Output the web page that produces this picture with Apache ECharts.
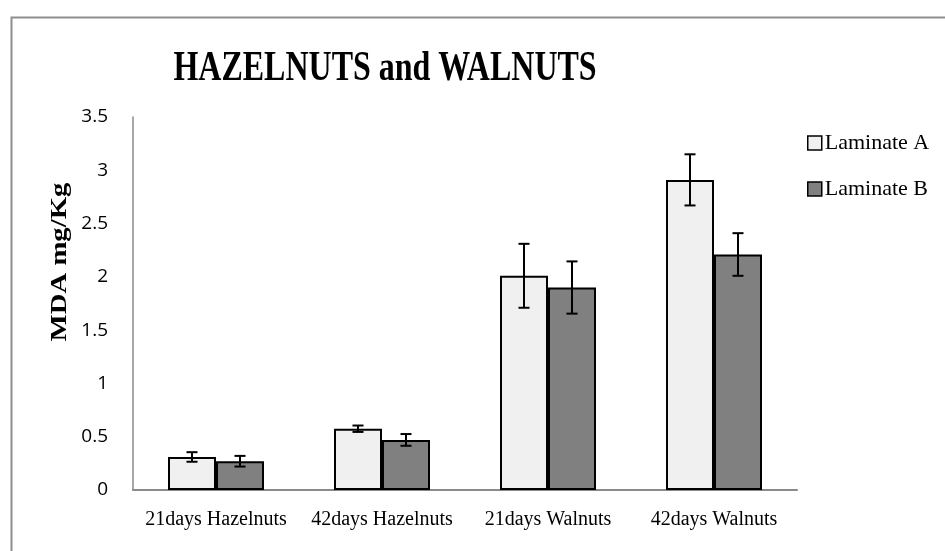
<!DOCTYPE html>
<html>
<head>
<meta charset="utf-8">
<script src="https://cdn.jsdelivr.net/npm/echarts@6/dist/echarts.min.js"></script>
<style>
  html, body { margin: 0; padding: 0; background: #fff; }
  #main { width: 945px; height: 551px; }
</style>
</head>
<body>
<div id="main"></div>
<script>
var categories = ['21days Hazelnuts', '42days Hazelnuts', '21days Walnuts', '42days Walnuts'];
var laminateA = [0.31, 0.575, 2.01, 2.91];
var laminateB = [0.27, 0.47, 1.90, 2.21];
var errorA = [0.045, 0.03, 0.30, 0.24];
var errorB = [0.05, 0.055, 0.245, 0.20];
var yTicks = { min: 0, max: 3.5, interval: 0.5 };

var serif = '"Liberation Serif", "DejaVu Serif", serif';

// error bar for one bar, offset in px from the category centre
function errorBar(offset) {
	return function (params, api) {
		var cat = api.value(0);
		var val = api.value(1);
		var err = api.value(2);
		var x = api.coord([cat, val])[0] + offset;
		var hi = api.coord([cat, val + err])[1];
		var lo = api.coord([cat, val - err])[1];
		var style = { stroke: '#000', lineWidth: 2 };
		return {
			type: 'group',
			children: [
				{ type: 'line', shape: { x1: x, y1: hi, x2: x, y2: lo }, style: style },
				{ type: 'line', shape: { x1: x - 5.5, y1: hi, x2: x + 5.5, y2: hi }, style: style },
				{ type: 'line', shape: { x1: x - 5.5, y1: lo, x2: x + 5.5, y2: lo }, style: style }
			]
		};
	};
}

function errData(vals, errs) {
	return vals.map(function (v, i) { return [i, v, errs[i]]; });
}

var option = {
	animation: false,
	backgroundColor: '#fff',
	graphic: [
		{
			type: 'rect',
			left: 9, top: 15,
			shape: { width: 1000, height: 600 },
			style: { fill: 'none', stroke: '#8e8e8e', lineWidth: 2 }
		},
		{
			type: 'text',
			x: 385, y: 69,
			scaleY: 1.3,
			style: {
				text: 'HAZELNUTS and WALNUTS',
				font: 'bold 32px ' + serif,
				fill: '#000',
				align: 'center',
				verticalAlign: 'middle'
			}
		},
		{
			type: 'text',
			x: 60, y: 262,
			rotation: Math.PI / 2,
			scaleX: 1.25,
			style: {
				text: 'MDA mg/Kg',
				font: 'bold 23px ' + serif,
				fill: '#000',
				align: 'center',
				verticalAlign: 'middle'
			}
		}
	],
	legend: {
		orient: 'vertical',
		left: 802,
		top: 127,
		icon: 'rect',
		itemWidth: 14,
		itemHeight: 14,
		itemGap: 24,
		data: ['Laminate A', 'Laminate B'],
		itemStyle: { borderColor: '#000', borderWidth: 1.5 },
		textStyle: { fontFamily: serif, fontSize: 22, color: '#000', padding: [0, 0, 0, -2] }
	},
	grid: { left: 133, right: 148, top: 117, bottom: 61 },
	xAxis: {
		type: 'category',
		data: categories,
		axisLine: { lineStyle: { color: '#8a8a8a', width: 2 } },
		axisTick: { show: false },
		axisLabel: { interval: 0, fontFamily: serif, fontSize: 20, color: '#000', margin: 20 }
	},
	yAxis: {
		type: 'value',
		min: yTicks.min,
		max: yTicks.max,
		interval: yTicks.interval,
		axisLine: { show: true, lineStyle: { color: '#8a8a8a', width: 1.5 } },
		axisTick: { show: false },
		splitLine: { show: false },
		axisLabel: { fontFamily: '"Open Sans", sans-serif', fontSize: 19, color: '#000', margin: 25 }
	},
	series: [
		{
			name: 'Laminate A',
			type: 'bar',
			data: laminateA,
			barWidth: 48,
			barGap: '0%',
			itemStyle: { color: '#f0f0f0', borderColor: '#000', borderWidth: 2 }
		},
		{
			name: 'Laminate B',
			type: 'bar',
			data: laminateB,
			barWidth: 48,
			barGap: '0%',
			itemStyle: { color: '#808080', borderColor: '#000', borderWidth: 2 }
		},
		{
			type: 'custom',
			renderItem: errorBar(-24),
			encode: { x: 0, y: 1 },
			data: errData(laminateA, errorA),
			z: 5
		},
		{
			type: 'custom',
			renderItem: errorBar(24),
			encode: { x: 0, y: 1 },
			data: errData(laminateB, errorB),
			z: 5
		}
	]
};

var myChart = echarts.init(document.getElementById('main'));
myChart.setOption(option);
</script>
</body>
</html>
